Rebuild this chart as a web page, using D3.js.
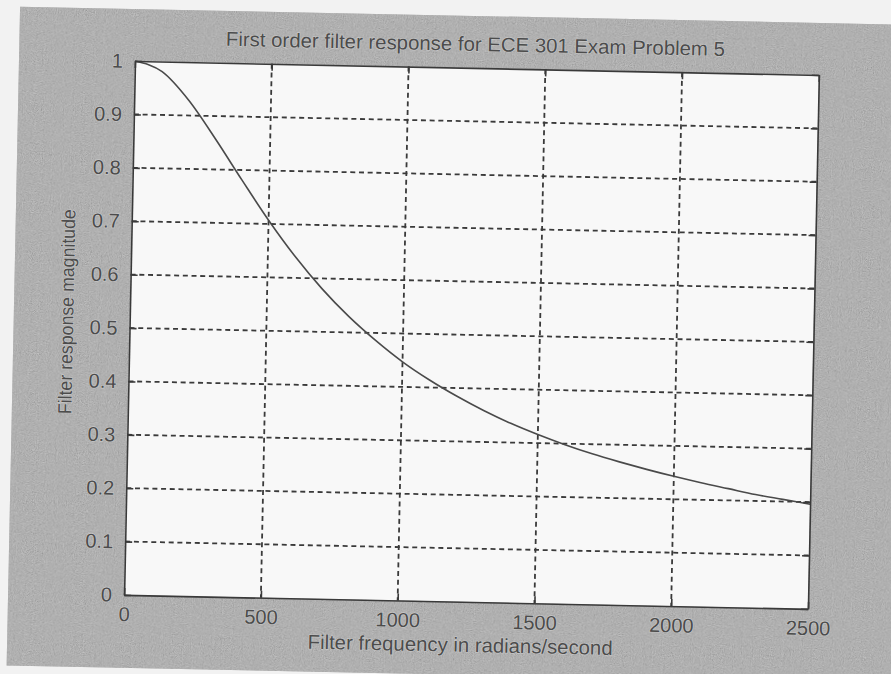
<!DOCTYPE html>
<html>

<head>
  <script src="https://d3js.org/d3.v7.min.js"></script>

  <style>
    body { margin: 0; background: #f2f2f2; }
    text { font-family: "Liberation Sans", Arial, sans-serif; }
  </style>
</head>

<body>

  <div id="svgcontainer"></div>

  <script>

    /* data */
    var freqs = [0, 100, 200, 300, 400, 500, 600, 700, 800, 900, 1000, 1100, 1200,
      1300, 1400, 1500, 1600, 1700, 1800, 1900, 2000, 2100, 2200, 2300, 2400, 2500];
    var magnitudes = [1.000, 0.981, 0.928, 0.857, 0.781, 0.707, 0.640, 0.581, 0.530, 0.486,
      0.447, 0.414, 0.385, 0.359, 0.336, 0.316, 0.298, 0.282, 0.268, 0.255,
      0.243, 0.232, 0.222, 0.212, 0.204, 0.196];
    var xTicks = [0, 500, 1000, 1500, 2000, 2500];
    var yTicks = [0, 0.1, 0.2, 0.3, 0.4, 0.5, 0.6, 0.7, 0.8, 0.9, 1];

    var titleText = "First order filter response for ECE 301 Exam Problem 5";
    var xLabelText = "Filter frequency in radians/second";
    var yLabelText = "Filter response magnitude";

    /* svg set up */
    var W = 891, H = 674;
    var plot = { left: 135, top: 61, width: 684, height: 534 };

    var svg = d3.select("#svgcontainer")
      .append("svg")
      .attr("width", W)
      .attr("height", H);

    // grainy look of the scanned grey frame
    var defs = svg.append("defs");
    var f = defs.append("filter").attr("id", "grain")
      .attr("x", 0).attr("y", 0).attr("width", "100%").attr("height", "100%");
    f.append("feTurbulence").attr("type", "fractalNoise")
      .attr("baseFrequency", 0.9).attr("numOctaves", 2).attr("seed", 3);
    f.append("feColorMatrix").attr("type", "matrix")
      .attr("values", "0.33 0.33 0.33 0 0  0.33 0.33 0.33 0 0  0.33 0.33 0.33 0 0  0 0 0 0 0.55");

    // whole scan is tilted a little
    var g = svg.append("g")
      .attr("transform", "rotate(1.17," + plot.left + "," + plot.top + ")");

    g.append("rect")
      .attr("x", 19).attr("y", 9)
      .attr("width", 1000).attr("height", 659)
      .attr("fill", "#a2a2a2");
    g.append("rect")
      .attr("x", 19).attr("y", 9)
      .attr("width", 1000).attr("height", 659)
      .attr("filter", "url(#grain)");

    // plot area
    g.append("rect")
      .attr("x", plot.left).attr("y", plot.top)
      .attr("width", plot.width).attr("height", plot.height)
      .attr("fill", "#f8f8f8");

    /* scales */
    var x = d3.scaleLinear()
      .domain([0, 2500])
      .range([plot.left, plot.left + plot.width]);

    var y = d3.scaleLinear()
      .domain([0, 1])
      .range([plot.top + plot.height, plot.top]);

    var ink = "#3a3a3a";

    // dashed grid
    g.selectAll(".vgrid")
      .data(xTicks.slice(1, -1))
      .enter()
      .append("line")
      .attr("x1", d => x(d)).attr("x2", d => x(d))
      .attr("y1", plot.top).attr("y2", plot.top + plot.height)
      .attr("stroke", ink).attr("stroke-width", 1.8)
      .attr("stroke-dasharray", "5,3.7");

    g.selectAll(".hgrid")
      .data(yTicks.slice(1, -1))
      .enter()
      .append("line")
      .attr("x1", plot.left).attr("x2", plot.left + plot.width)
      .attr("y1", d => y(d)).attr("y2", d => y(d))
      .attr("stroke", ink).attr("stroke-width", 1.8)
      .attr("stroke-dasharray", "5,3.7");

    // the curve
    var line = d3.line()
      .x((d, i) => x(freqs[i]))
      .y(d => y(d))
      .curve(d3.curveMonotoneX);

    g.append("path")
      .attr("d", line(magnitudes))
      .attr("fill", "none")
      .attr("stroke", "#4a4a4a")
      .attr("stroke-width", 1.6);

    // axes on all four sides, ticks pointing in
    var tk = 7;
    g.append("g")
      .attr("transform", "translate(0," + (plot.top + plot.height) + ")")
      .call(d3.axisBottom(x).tickValues(xTicks).tickSizeInner(-tk).tickSizeOuter(0).tickPadding(12)
        .tickFormat(d3.format("d")));
    g.append("g")
      .attr("transform", "translate(0," + plot.top + ")")
      .call(d3.axisTop(x).tickValues(xTicks).tickSizeInner(-tk).tickSizeOuter(0).tickFormat(""));
    g.append("g")
      .attr("transform", "translate(" + plot.left + ",0)")
      .call(d3.axisLeft(y).tickValues(yTicks).tickSizeInner(-tk).tickSizeOuter(0).tickPadding(12)
        .tickFormat(d3.format("~g")));
    g.append("g")
      .attr("transform", "translate(" + (plot.left + plot.width) + ",0)")
      .call(d3.axisRight(y).tickValues(yTicks).tickSizeInner(-tk).tickSizeOuter(0).tickFormat(""));

    g.selectAll(".domain").attr("stroke", ink).attr("stroke-width", 1.6);
    g.selectAll(".tick line").attr("stroke", ink).attr("stroke-width", 1.6);
    g.selectAll(".tick text")
      .attr("fill", "#4c4c4c")
      .attr("stroke", "#c8c8c8").attr("stroke-width", 1.2)
      .attr("paint-order", "stroke")
      .style("font-size", "20px");

    // titles
    function label(txt, cx, cy, size, len, rot) {
      g.append("text")
        .attr("transform", "translate(" + cx + "," + cy + ")" + (rot ? " rotate(-90)" : ""))
        .attr("text-anchor", "middle")
        .attr("dominant-baseline", "central")
        .attr("textLength", len)
        .attr("lengthAdjust", "spacingAndGlyphs")
        .attr("fill", "#4c4c4c")
        .attr("stroke", "#c8c8c8").attr("stroke-width", 1.2)
        .attr("paint-order", "stroke")
        .style("font-size", size + "px")
        .text(txt);
    }

    label(titleText, 475, 37, 20, 499, false);
    label(xLabelText, 472, 638, 20, 305, false);
    label(yLabelText, 72, 313, 19, 205, true);

  </script>
</body>

</html>
